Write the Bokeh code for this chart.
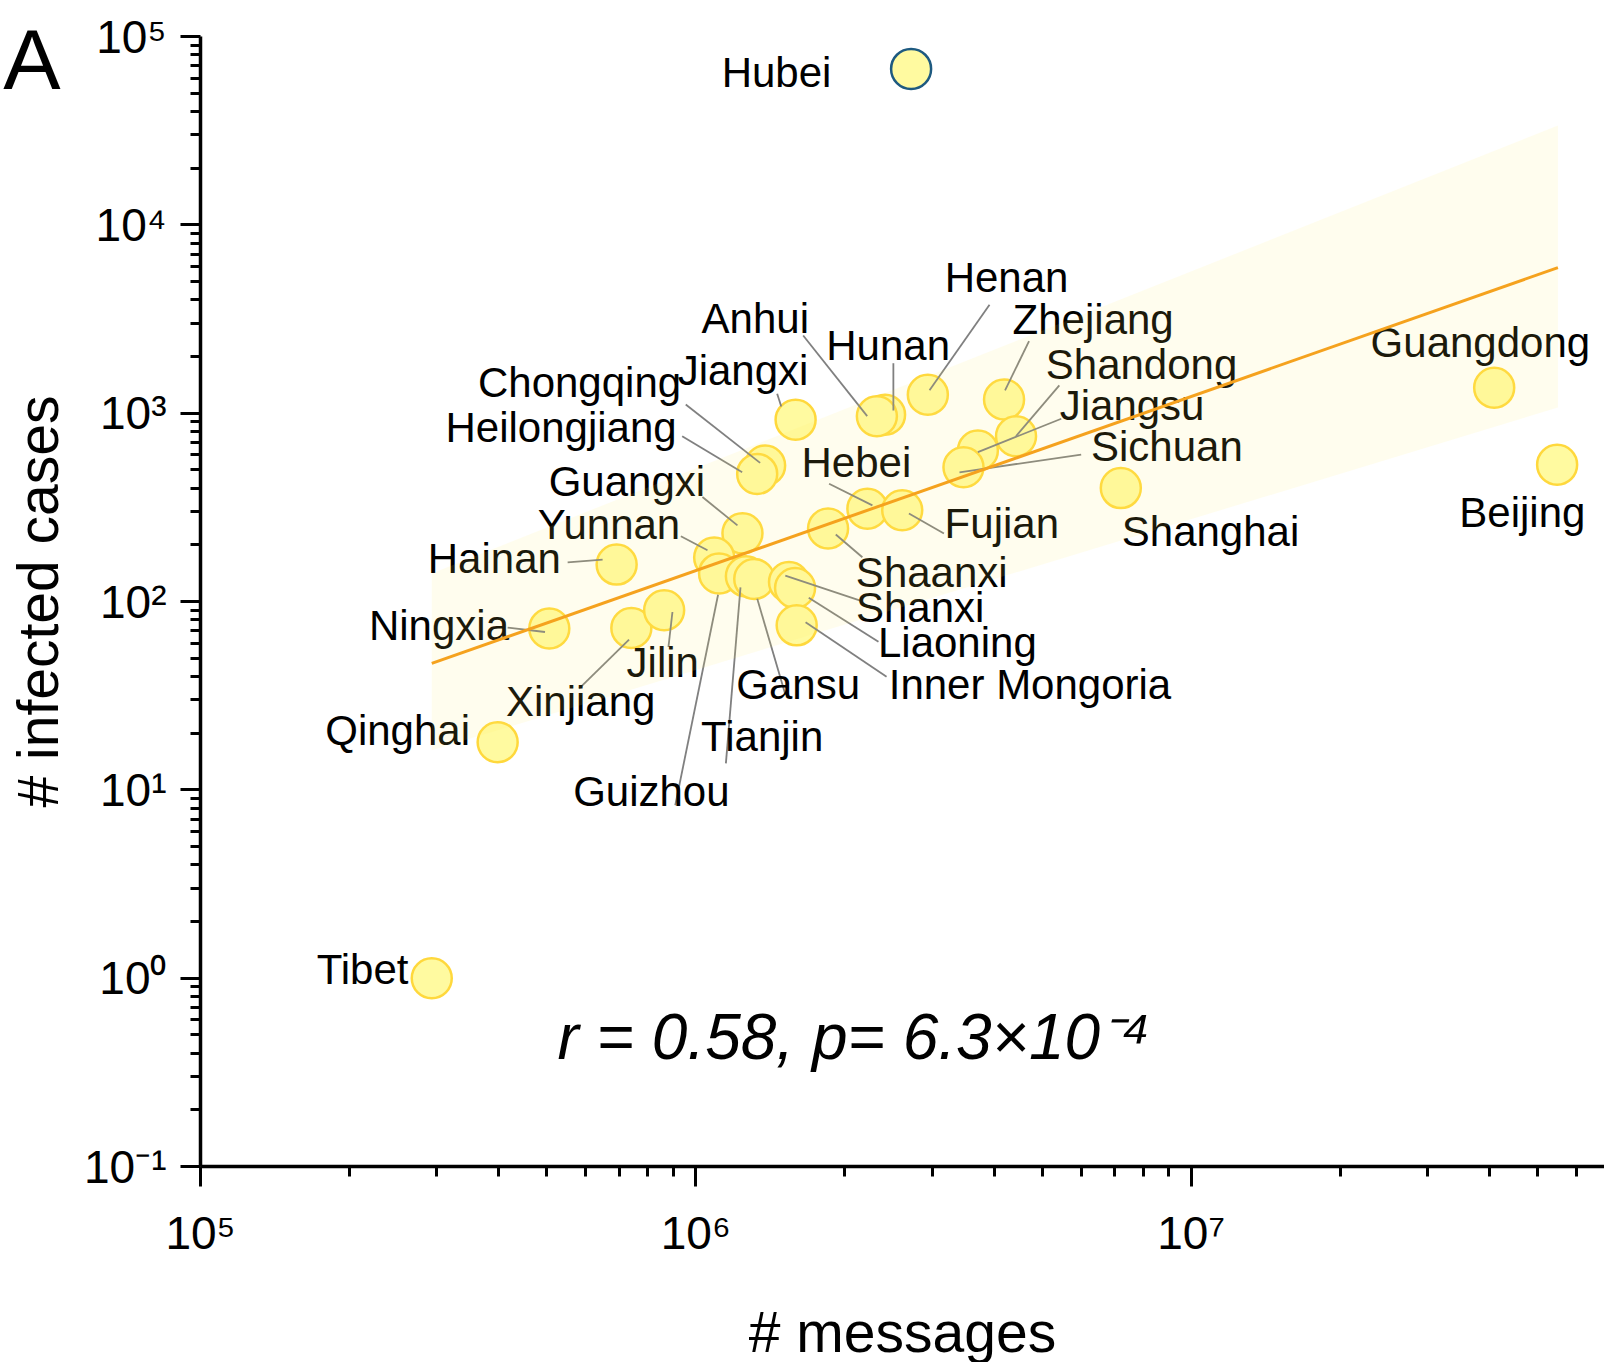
import math
from bokeh.plotting import figure
from bokeh.models import (Range1d, FixedTicker, CustomJSTickFormatter, Label, ColumnDataSource,
                          LogAxis)
from bokeh.core.properties import value
from bokeh.embed import file_html
from bokeh.resources import INLINE

# ---------------- data ----------------
provinces = ["Hubei", "Guangdong", "Beijing", "Shanghai", "Henan", "Zhejiang", "Hunan",
             "Anhui", "Shandong", "Jiangsu", "Sichuan", "Hebei", "Fujian", "Jiangxi",
             "Chongqing", "Heilongjiang", "Guangxi", "Yunnan", "Guizhou", "Tianjin",
             "Gansu", "Shanxi", "Liaoning", "Inner Mongoria", "Shaanxi", "Hainan",
             "Ningxia", "Xinjiang", "Jilin", "Qinghai", "Tibet"]
messages = [2.72e6, 4.09e7, 5.48e7, 7.21e6, 2.94e6, 4.19e6, 2.41e6,
            2.32e6, 4.43e6, 3.71e6, 3.47e6, 2.22e6, 2.61e6, 1.59e6,
            1.38e6, 1.33e6, 1.242e6, 1.089e6, 1.114e6, 1.262e6,
            1.312e6, 1.542e6, 1.586e6, 1.598e6, 1.849e6, 6.92e5,
            5.06e5, 7.41e5, 8.63e5, 3.98e5, 2.93e5]
cases = [67300, 1365, 532, 400, 1254, 1183, 980,
         964, 755, 634, 516, 311, 305, 923,
         527, 476, 230, 171, 141, 136,
         131.6, 127, 118, 74.7, 244, 157,
         71.8, 72.3, 89.8, 17.9, 1.0]

fit_messages = [2.93e5, 5.5e7]
fit_cases = [46.9, 5930]
band_lower = [16.2, 1072]
band_upper = [141, 33650]

x_ticks = [1e5, 1e6, 1e7]
y_ticks = [1e-1, 1e0, 1e1, 1e2, 1e3, 1e4, 1e5]

stat_text = "r = 0.58, p= 6.3×10⁻⁴"
panel_letter = "A"

# ---------------- layout (pixel offsets of labels from their points) ----------------
label_offset = {
    "Hubei": (-134.6, 3.4), "Henan": (78.7, -117.6), "Zhejiang": (89.1, -80.3),
    "Hunan": (3.1, -68.9), "Anhui": (-121.6, -98), "Jiangxi": (-52.6, -48.8),
    "Chongqing": (-185.6, -82.7), "Heilongjiang": (-196.1, -46.3),
    "Shandong": (125.5, -71.5), "Jiangsu": (154.2, -45), "Sichuan": (203.4, -20.9),
    "Hebei": (-11, -46.6), "Fujian": (99.6, 13.3), "Shanghai": (89.7, 43.1),
    "Guangdong": (-13.8, -45.6), "Beijing": (-34.8, 48.2), "Guangxi": (-115.6, -52.2),
    "Yunnan": (-105.2, -33.1), "Hainan": (-122.3, -6.3), "Ningxia": (-110.3, -3.1),
    "Jilin": (-1.4, 52.5), "Xinjiang": (-50.7, 73.1), "Qinghai": (-100, -12),
    "Tibet": (-69.2, -8.2), "Guizhou": (-67.7, 217.9), "Tianjin": (16.3, 159.9),
    "Gansu": (43.9, 105.9), "Shaanxi": (103.7, 43.9), "Shanxi": (131.2, 25.4),
    "Liaoning": (162.3, 54.9), "Inner Mongoria": (233.3, 59.6),
}
leader_offset = {
    "Henan": (61.7, -90, 1.7, -4.3), "Zhejiang": (25, -58.3, 1, -9),
    "Hunan": (8.3, -51.6, 8.3, -4.3), "Anhui": (-73.7, -80.7, -9.7, 0),
    "Jiangxi": (-18.4, -26, -14.4, -13.3), "Chongqing": (-79.4, -61, -5, -2.7),
    "Heilongjiang": (-75, -37.6, -15, -1.6), "Shandong": (43.3, -50.7, 0, 0),
    "Jiangsu": (83.4, -31.7, 0, 1.7), "Sichuan": (117.7, -12.7, -4, 5),
    "Hebei": (-38.3, -25, 5, -3.3), "Fujian": (41.7, 23.3, 6.7, 3.3),
    "Guangxi": (-40, -36.3, -5, -8), "Yunnan": (-33.3, -21.3, -6.7, -7.3),
    "Hainan": (-49, -2.3, -14, -5), "Ningxia": (-41.7, -1, -4.3, 3.4),
    "Jilin": (4.3, 36.7, 8.3, 1.7), "Xinjiang": (-52.3, 60.6, -2.3, 11.6),
    "Guizhou": (-43.8, 231.8, -1, 21.3), "Tianjin": (-20, 187, -5.4, 11),
    "Gansu": (31, 115.3, 3, 19.8), "Shaanxi": (34.3, 28.7, 7.7, 6),
    "Shanxi": (71.3, 18.7, -3.7, -6.3), "Liaoning": (83.4, 53.9, 13.7, 9.8),
    "Inner Mongoria": (89.9, 51.4, 8.9, -3),
}

FONT = "Liberation Sans"
frame_w, frame_h = 1404, 1130
x_start, x_end = 1e5, 6.83e7
y_start, y_end = 1e-1, 1e5
PX = frame_w / math.log10(x_end / x_start)
PY = frame_h / math.log10(y_end / y_start)
BORDER_L, BORDER_T = 193, 36


def shift(x, y, dx, dy):
    return x * 10 ** (dx / PX), y * 10 ** (-dy / PY)


p = figure(x_axis_type="log", y_axis_type="log",
           x_range=Range1d(x_start, x_end), y_range=Range1d(y_start, y_end),
           frame_width=frame_w, frame_height=frame_h,
           min_border_left=BORDER_L, min_border_right=0, min_border_top=BORDER_T,
           min_border_bottom=177,
           output_backend="svg", toolbar_location=None)
p.grid.visible = False
p.outline_line_color = None
p.background_fill_color = "white"

fmt = CustomJSTickFormatter(code="""
const e = Math.round(Math.log10(tick));
const sup = {'-':'\u207b','0':'\u2070','1':'\u00b9','2':'\u00b2','3':'\u00b3','4':'\u2074','5':'\u2075','6':'\u2076','7':'\u2077','8':'\u2078','9':'\u2079'};
return '10' + String(e).split('').map(c => sup[c]).join('');
""")

xminor = [m * 10 ** d for d in range(5, 8) for m in range(2, 10) if m * 10 ** d <= x_end]
yminor = [m * 10.0 ** d for d in range(-1, 5) for m in range(2, 10)]
p.xaxis.ticker = FixedTicker(ticks=x_ticks, minor_ticks=xminor)
p.yaxis.ticker = FixedTicker(ticks=y_ticks, minor_ticks=yminor)
for ax in (p.xaxis, p.yaxis):
    ax.formatter = fmt
    ax.axis_line_width = 3.5
    ax.major_tick_line_width = 3
    ax.minor_tick_line_width = 3
    ax.major_tick_out = 20
    ax.major_tick_in = 0
    ax.minor_tick_out = 10
    ax.minor_tick_in = 0
    ax.major_label_text_font = FONT
    ax.major_label_text_font_size = "46px"
    ax.major_label_text_color = "black"
    ax.axis_label_text_font = FONT
    ax.axis_label_text_font_size = "57px"
    ax.axis_label_text_font_style = "normal"
    ax.axis_label_text_color = "black"
p.xaxis.axis_label = "# messages"
p.yaxis.axis_label = "# infected cases"
p.xaxis.major_label_standoff = 20
p.yaxis.major_label_standoff = 14
p.xaxis.axis_label_standoff = 38
p.yaxis.axis_label_standoff = 11

# panel letter: an outer left axis without line/ticks whose single label is the letter
letter_pos = [10 ** (5 - 22 / PY)]
letter_axis = LogAxis(ticker=FixedTicker(ticks=letter_pos),
                      formatter=CustomJSTickFormatter(code="return '%s';" % panel_letter),
                      axis_line_color=None, major_tick_line_color=None,
                      minor_tick_line_color=None, major_tick_out=0, major_tick_in=0,
                      minor_tick_out=0, minor_tick_in=0, major_label_standoff=-57,
                      major_label_text_font=FONT, major_label_text_font_size="86px",
                      major_label_text_color="black")
p.add_layout(letter_axis, "left")

# points
line_cols = ["#1E5A80" if n == "Hubei" else "#FFD83C" for n in provinces]
src = ColumnDataSource(dict(x=messages, y=cases, name=provinces, lc=line_cols))
p.scatter("x", "y", source=src, size=40, fill_color="#FFFAA0", line_color="lc", line_width=2.5)

# leaders
x0, y0, x1, y1 = [], [], [], []
for n, xv, yv in zip(provinces, messages, cases):
    if n in leader_offset:
        sx, sy, ex, ey = leader_offset[n]
        a = shift(xv, yv, sx, sy)
        b = shift(xv, yv, ex, ey)
        x0.append(a[0]); y0.append(a[1]); x1.append(b[0]); y1.append(b[1])
p.segment(x0=x0, y0=y0, x1=x1, y1=y1, line_color="#808080", line_width=1.8)

# labels
lx, ly = [], []
for n, xv, yv in zip(provinces, messages, cases):
    a = shift(xv, yv, *label_offset[n])
    lx.append(a[0]); ly.append(a[1])
p.text(x=lx, y=ly, text=provinces, text_align="center", text_baseline="middle",
       text_font=value(FONT), text_font_size="42px", text_color="black")

# confidence band (drawn translucent on top) and fit line
p.varea(x=fit_messages, y1=band_lower, y2=band_upper, fill_color="#FFEB64", fill_alpha=0.11)
p.line(fit_messages, fit_cases, line_color="#F5A21E", line_width=3)

sx_, sy_ = shift(x_start, y_start, 357, -130)
p.add_layout(Label(x=sx_, y=sy_, text=stat_text, text_font=FONT, text_font_size="64px",
                   text_font_style="italic", text_color="black", text_baseline="middle"))

open("out.html", "w").write(file_html(p, INLINE))
